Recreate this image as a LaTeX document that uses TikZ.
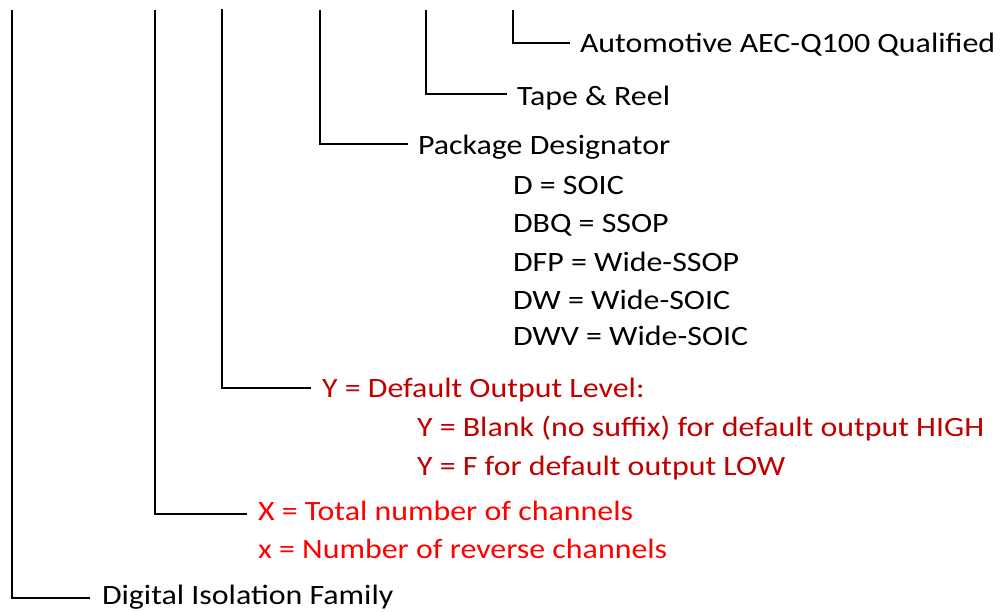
\documentclass[tikz,border=0pt]{standalone}
\usepackage{fontspec}
\setmainfont{Carlito}
\newfontfamily\lblfont[FakeStretch=1.14]{Carlito}
\definecolor{chanred}{HTML}{FF0000}
\definecolor{outred}{HTML}{C00000}
\tikzset{
  lead/.style={line width=1.6pt},
  lbl/.style={anchor=base west, inner sep=0pt, outer sep=0pt, font=\lblfont\fontsize{28}{34}\selectfont},
}
\begin{document}
\begin{tikzpicture}[x=1pt, y=-1pt]
\useasboundingbox (0,0) rectangle (1001,612);
% tops of the leads
\coordinate (t1) at (12,10);
\coordinate (t2) at (155,10);
\coordinate (t3) at (222,9);
\coordinate (t4) at (320,10);
\coordinate (t5) at (426,10);
\coordinate (t6) at (513,10);
% field labels
\node[lbl] (aec) at (580,53) {Automotive AEC-Q100 Qualified};
\node[lbl] (tnr) at (517,106) {Tape \& Reel};
\node[lbl] (pkg) at (418,155) {Package Designator};
\node[lbl] (pkgd) at (513,195) {D = SOIC};
\node[lbl] (pkgdbq) at (513,233) {DBQ = SSOP};
\node[lbl] (pkgdfp) at (513,272) {DFP = Wide-SSOP};
\node[lbl] (pkgdw) at (513,309.5) {DW = Wide-SOIC};
\node[lbl] (pkgdwv) at (513,345) {DWV = Wide-SOIC};
\node[lbl, text=outred] (dol) at (322,397) {Y = Default Output Level:};
\node[lbl, text=outred] (dolhi) at (417,436.7) {Y = Blank (no suffix) for default output HIGH};
\node[lbl, text=outred] (dollo) at (417,475.5) {Y = F for default output LOW};
\node[lbl, text=chanred] (chx) at (258,520) {X = Total number of channels};
\node[lbl, text=chanred] (chrev) at (258,558.3) {x = Number of reverse channels};
\node[lbl] (fam) at (102,604) {Digital Isolation Family};
% leads
\draw[lead] (t1) |- ([shift={(-12pt,6pt)}]fam.base west);
\draw[lead] (t2) |- ([shift={(-11pt,6pt)}]chx.base west);
\draw[lead] (t3) |- ([shift={(-11pt,9pt)}]dol.base west);
\draw[lead] (t4) |- ([shift={(-10pt,11pt)}]pkg.base west);
\draw[lead] (t5) |- ([shift={(-10pt,12pt)}]tnr.base west);
\draw[lead] (t6) |- ([shift={(-10pt,10pt)}]aec.base west);
\end{tikzpicture}
\end{document}
